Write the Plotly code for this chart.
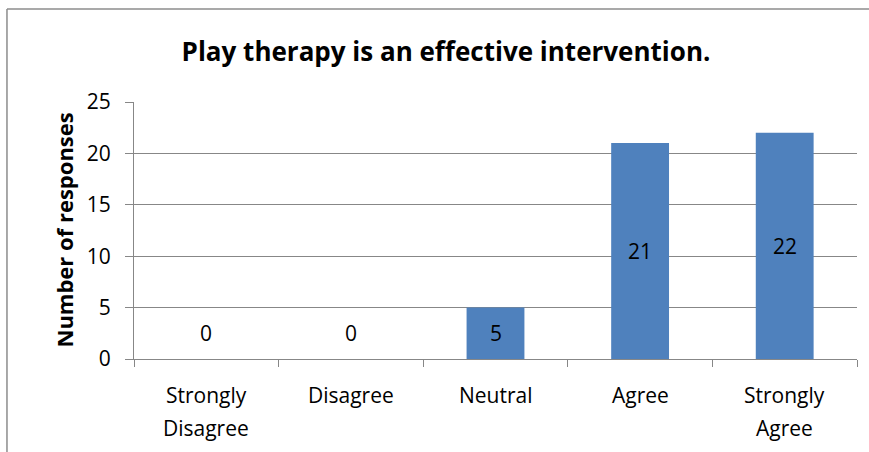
import plotly.graph_objects as go

categories = ['Strongly Disagree', 'Disagree', 'Neutral', 'Agree', 'Strongly Agree']
tick_labels = ['Strongly<br>Disagree', 'Disagree', 'Neutral', 'Agree', 'Strongly<br>Agree']
responses = [0, 0, 5, 21, 22]
y_ticks = [0, 5, 10, 15, 20, 25]

font = 'Open Sans'
bar_color = '#4F81BD'
grid = '#878787'

fig = go.Figure(go.Bar(x=categories, y=responses, marker=dict(color=bar_color, line=dict(width=0)),
                       width=0.4, hoverinfo='skip'))

# data labels in the middle of each bar (Excel places zero labels like a 5-bar)
for c, v in zip(categories, responses):
    fig.add_annotation(x=c, y=v / 2 if v > 0 else 2.5, text=str(v), showarrow=False,
                       font=dict(family=font, size=21, color='black'))

# category labels with wider line spacing than plotly's <br>
for c, lab in zip(categories, tick_labels):
    for i, line in enumerate(lab.split('<br>')):
        fig.add_annotation(x=c, y=-0.14 - i * 0.13, yref='paper', text=line, showarrow=False,
                           font=dict(family=font, size=21, color='black'), yanchor='middle')

# y axis title
fig.add_annotation(x=(63 - 134) / 723, y=0.5, xref='paper', yref='paper', text='<b>Number of responses</b>',
                   textangle=-90, showarrow=False, xanchor='center', yanchor='middle',
                   font=dict(family=font, size=22, color='black'))

# outer chart border (cut at right and bottom)
fig.add_shape(type='line', xref='paper', yref='paper', x0=-0.1757, x1=1.02, y0=1.362, y1=1.362,
              line=dict(color='#8c8c8c', width=1.5))
fig.add_shape(type='line', xref='paper', yref='paper', x0=-0.1757, x1=-0.1757, y0=1.362, y1=-0.4,
              line=dict(color='#8c8c8c', width=1.5))

fig.update_layout(
    width=869, height=452,
    margin=dict(l=134, r=12, t=102, b=93),
    plot_bgcolor='white', paper_bgcolor='white',
    font=dict(family=font, size=21, color='black'),
    title=dict(text='<b>Play therapy is an effective intervention.</b>', x=446 / 869, xanchor='center',
               y=1 - 52 / 452, yanchor='middle', font=dict(family=font, size=26, color='black')),
    showlegend=False,
)
fig.update_xaxes(showticklabels=False, showline=True, linecolor=grid, linewidth=1,
                 ticks='outside', tickson='boundaries', ticklen=7, tickcolor=grid, showgrid=False)
fig.update_yaxes(range=[0, 25], tickvals=y_ticks, showline=True, linecolor=grid, linewidth=1,
                 ticks='outside', ticklen=8, tickcolor=grid, gridcolor=grid, gridwidth=1,
                 tickfont=dict(family=font, size=21), zeroline=False, ticklabelstandoff=10)

fig.write_html('out.html', config={'displayModeBar': False},
               post_script="document.body.style.margin='0';")
